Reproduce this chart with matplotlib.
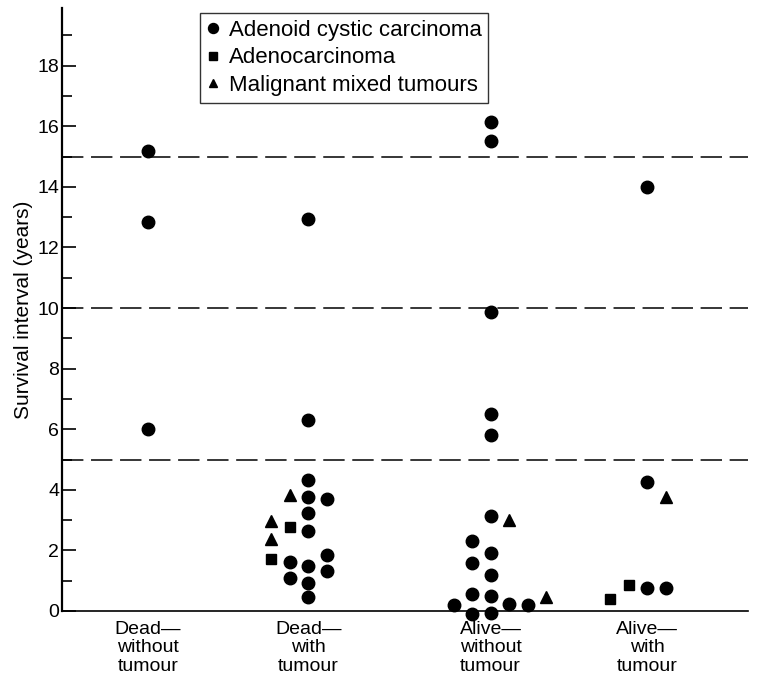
import numpy as np
import matplotlib
matplotlib.use("Agg")
import matplotlib.pyplot as plt
from matplotlib.ticker import MultipleLocator

plt.rcParams['font.family'] = ['Liberation Sans', 'DejaVu Sans']

# groups along the x axis
group_labels = ["Dead\u2014\nwithout\ntumour", "Dead\u2014\nwith\ntumour",
                "Alive\u2014\nwithout\ntumour", "Alive\u2014\nwith\ntumour"]
group_x = [1.25, 3.59, 6.25, 8.53]
col_step = 0.27  # horizontal spacing between stacked points

# Adenoid cystic carcinoma (group, column, years)
adenoid_grp = [0, 0, 0,
               1, 1, 1, 1, 1, 1, 1, 1, 1, 1, 1, 1, 1, 1,
               2, 2, 2, 2, 2, 2, 2, 2, 2, 2, 2, 2, 2, 2, 2, 2, 2,
               3, 3, 3, 3]
adenoid_col = [0, 0, 0,
               0, 0, 0, 0, 1, 0, 0, 1, -1, 0, 1, -1, 0, 0,
               0, 0, 0, 0, 0, 0, -1, 0, -1, 0, -1, 0, -2, 1, 2, -1, 0,
               0, 0, 0, 1]
adenoid_val = [15.2, 12.85, 6.0,
               12.95, 6.3, 4.33, 3.77, 3.70, 3.24, 2.64, 1.85, 1.62, 1.49, 1.32, 1.09, 0.92, 0.46,
               16.15, 15.5, 9.87, 6.5, 5.8, 3.14, 2.31, 1.92, 1.59, 1.19, 0.56, 0.50, 0.20, 0.23, 0.20, -0.10, -0.07,
               14.0, 4.26, 0.76, 0.76]

# Adenocarcinoma
adeno_grp = [1, 1, 3, 3]
adeno_col = [-1, -2, -1, -2]
adeno_val = [2.77, 1.72, 0.86, 0.40]

# Malignant mixed tumours
mixed_grp = [1, 1, 1, 2, 2, 3]
mixed_col = [-1, -2, -2, 1, 3, 1]
mixed_val = [3.83, 2.97, 2.38, 3.0, 0.46, 3.77]

cutoffs = [5, 10, 15]


def xpos(grp, col):
    return [group_x[g] + c * col_step for g, c in zip(grp, col)]


fig = plt.figure(figsize=(7.71, 6.79), dpi=100)
ax = fig.add_axes([0.0804, 0.1002, 0.8896, 0.8878])

for c in cutoffs:
    ax.axhline(c, color="black", lw=1.1, dashes=(14, 5), zorder=1)

ax.plot(xpos(adenoid_grp, adenoid_col), adenoid_val, "o", color="black", ms=9,
        clip_on=False, zorder=3, label="Adenoid cystic carcinoma")
ax.plot(xpos(adeno_grp, adeno_col), adeno_val, "s", color="black", ms=7.5,
        clip_on=False, zorder=3, label="Adenocarcinoma")
ax.plot(xpos(mixed_grp, mixed_col), mixed_val, "^", color="black", ms=8,
        clip_on=False, zorder=3, label="Malignant mixed tumours")

ax.set_xlim(0, 10)
ax.set_ylim(0, 19.9)

ax.spines["top"].set_visible(False)
ax.spines["right"].set_visible(False)
ax.spines["left"].set_linewidth(1.6)
ax.spines["bottom"].set_linewidth(1.2)

ax.yaxis.set_major_locator(MultipleLocator(2))
ax.yaxis.set_minor_locator(MultipleLocator(1))
ax.set_yticks(np.arange(0, 19, 2))
ax.tick_params(axis="y", which="major", direction="in", length=10, width=1.2,
               labelsize=14, pad=2)
ax.tick_params(axis="y", which="minor", direction="in", length=7, width=1.2)

ax.set_xticks(group_x)
ax.set_xticklabels(group_labels, fontsize=14, linespacing=1.12)
ax.tick_params(axis="x", length=0, pad=7)

ax.set_ylabel("Survival interval (years)", fontsize=15, labelpad=3)

leg = ax.legend(loc="upper left", bbox_to_anchor=(0.201, 0.992), borderaxespad=0,
                fontsize=16, frameon=True, fancybox=False, edgecolor="black",
                handlelength=0.6, handletextpad=0.4, labelspacing=0.3,
                borderpad=0.3, markerscale=0.8)
leg.get_frame().set_linewidth(1.0)

plt.savefig("out.png", dpi=100)
plt.close()
